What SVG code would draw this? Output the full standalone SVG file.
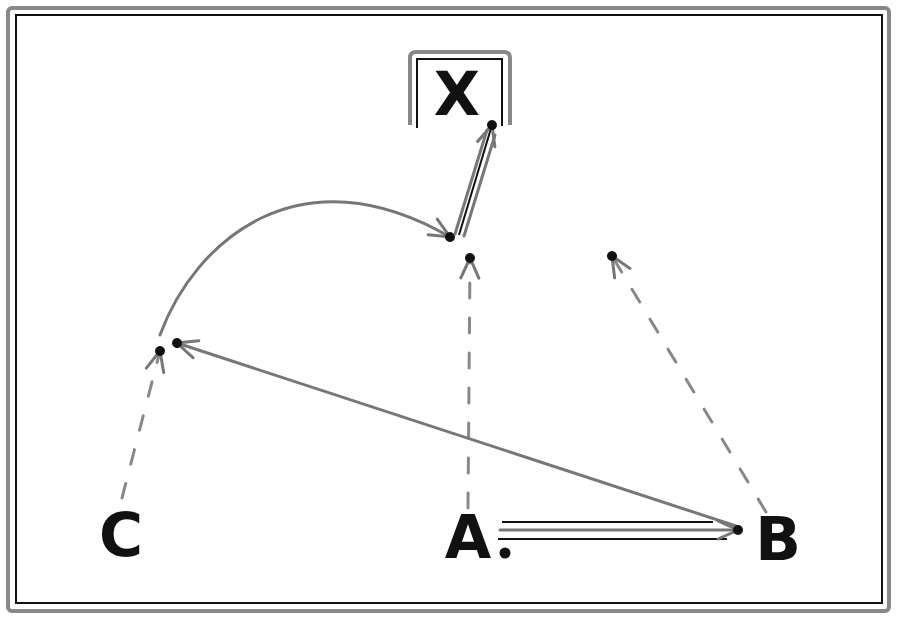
<svg xmlns="http://www.w3.org/2000/svg" width="900" height="620" viewBox="0 0 900 620">
<defs>
<style>
.lbl{font-family:"DejaVu Sans","Liberation Sans",sans-serif;font-weight:bold;font-size:60px;fill:#111}
.dash{fill:none;stroke:#888;stroke-width:3;stroke-dasharray:15 20;stroke-linecap:round}
.solid{fill:none;stroke:#777;stroke-width:3;stroke-linecap:round}
.thin{fill:none;stroke:#111;stroke-width:2}
.frameo{fill:none;stroke:#888;stroke-width:4}
</style>
<marker id="ah" viewBox="-22 -12 28 24" refX="0" refY="0" markerWidth="28" markerHeight="24" markerUnits="userSpaceOnUse" orient="auto">
<path d="M-20 -9 L0 0 L-20 9" fill="none" stroke="#777" stroke-width="3" stroke-linecap="round"/>
<circle r="5" fill="#111"/>
</marker>
</defs>
<rect width="900" height="620" fill="#fff"/>
<g id="frame">
<rect x="8" y="8" width="881" height="603" rx="4" class="frameo"/>
<rect x="16" y="15" width="866" height="588" class="thin"/>
</g>
<g id="connectors">
<line x1="468" y1="508" x2="470" y2="258" class="dash" marker-end="url(#ah)"/>
<line x1="122" y1="498" x2="160" y2="351" class="dash" marker-end="url(#ah)"/>
<line x1="766" y1="512" x2="612" y2="256" class="dash" marker-end="url(#ah)"/>
<line x1="736" y1="526" x2="177" y2="343" class="solid" marker-end="url(#ah)"/>
<path d="M160 335 C195 240 300 150 450 237" class="solid" stroke-width="2.5" marker-end="url(#ah)"/>
<g id="a-b-double">
<line x1="502" y1="522" x2="713" y2="522" class="thin"/>
<line x1="498" y1="539" x2="727" y2="539" class="thin"/>
<line x1="500" y1="530" x2="738" y2="530" class="solid" marker-end="url(#ah)"/>
</g>
<g id="to-x-double">
<line x1="455" y1="234" x2="487" y2="130" class="solid"/>
<line x1="464" y1="236" x2="495" y2="135" class="solid"/>
<line x1="459" y1="235" x2="492" y2="125" class="thin" stroke="#555" marker-end="url(#ah)"/>
</g>
</g>
<g id="node-x">
<path d="M410 125 L410 58 Q410 52 416 52 L504 52 Q510 52 510 58 L510 125" class="frameo"/>
<path d="M417 128 L417 59 L502 59 L502 126" class="thin"/>
<text x="457" y="115" text-anchor="middle" class="lbl">X</text>
</g>
<g id="node-a">
<text x="468" y="558" text-anchor="middle" class="lbl">A</text>
<circle cx="505" cy="553" r="5.5" fill="#111"/>
</g>
<g id="node-b">
<text x="778" y="560" text-anchor="middle" class="lbl">B</text>
</g>
<g id="node-c">
<text x="121" y="556" text-anchor="middle" class="lbl">C</text>
</g>
</svg>
